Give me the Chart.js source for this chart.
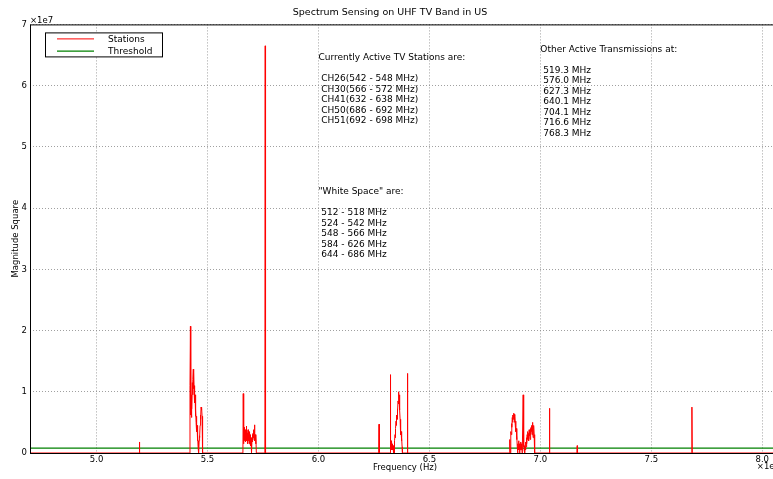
<!DOCTYPE html>
<html>
<head>
<meta charset="utf-8">
<script src="https://cdn.jsdelivr.net/npm/chart.js@4/dist/chart.umd.min.js"></script>
<style>
  html, body { margin: 0; padding: 0; background: #fff; overflow: hidden; }
  #wrap { width: 773px; height: 479px; overflow: hidden; }
</style>
</head>
<body>
<div id="wrap"><canvas id="chart" width="790" height="479"></canvas></div>
<script>
const FONT = '"DejaVu Sans", sans-serif';

// x in MHz (axis shows x1e8 Hz), y in units of 1e7
const xTicks = [500, 550, 600, 650, 700, 750, 800];
const yTicks = [0, 1, 2, 3, 4, 5, 6, 7];

// narrow single carriers
const carrierFreq = [519.3, 576.0, 627.3, 640.1, 704.1, 716.6, 768.3];
const carrierMag = [0.18, 6.65, 0.47, 1.3, 0.73, 0.12, 0.75];

// TV channel occupancy [MHz, magnitude]
const ch26 = [[541.9, 0], [542.1, 1.1], [542.3, 2.07], [542.4, 0.9], [542.5, 0.62], [542.6, 0.8], [542.7, 0.58],
  [542.85, 0.95], [543.0, 0.72], [543.15, 1.15], [543.3, 0.95], [543.45, 1.2], [543.6, 1.37], [543.7, 1.05],
  [543.8, 1.32], [543.95, 1.0], [544.1, 1.1], [544.25, 0.82], [544.4, 0.95], [544.55, 0.6], [544.7, 0.72],
  [544.85, 0.5], [545.0, 0.6], [545.15, 0.35], [545.3, 0.45], [545.45, 0.2], [545.6, 0.3], [545.75, 0.1],
  [545.9, 0.2], [546.05, 0.0], [546.2, 0.2], [546.35, 0.28], [546.5, 0.25], [546.65, 0.45], [546.8, 0.62],
  [546.95, 0.55], [547.1, 0.75], [547.25, 0.7], [547.4, 0.74], [547.55, 0.6], [547.7, 0.4], [547.85, 0.0]];

const ch30 = [[565.95, 0], [566.1, 0.97], [566.2, 0.3], [566.3, 0.15], [566.4, 0.32], [566.5, 0.2], [566.6, 0.42],
  [566.75, 0.25], [566.9, 0.38], [567.05, 0.18], [567.2, 0.35], [567.35, 0.28], [567.5, 0.44], [567.65, 0.2],
  [567.8, 0.32], [567.95, 0.15], [568.1, 0.3], [568.25, 0.38], [568.4, 0.2], [568.55, 0.33], [568.7, 0.15],
  [568.85, 0.28], [569.0, 0.35], [569.15, 0.2], [569.3, 0.3], [569.45, 0.12], [569.6, 0.25], [569.75, 0.05],
  [569.9, 0.0], [570.05, 0.22], [570.2, 0.3], [570.35, 0.18], [570.5, 0.32], [570.65, 0.25], [570.8, 0.38],
  [570.95, 0.22], [571.1, 0.35], [571.25, 0.46], [571.4, 0.2], [571.55, 0.3], [571.7, 0.15], [571.85, 0.28],
  [572.0, 0.0]];

const ch41 = [[632.25, 0], [632.4, 1.28], [632.55, 0.1], [632.7, 0.2], [632.85, 0.05], [633.0, 0.18], [633.15, 0.08],
  [633.3, 0.15], [633.45, 0.05], [633.6, 0.12], [633.75, 0.0], [633.9, 0.1], [634.05, 0.0], [634.2, 0.05],
  [634.35, 0.2], [634.5, 0.3], [634.65, 0.25], [634.8, 0.4], [634.95, 0.52], [635.1, 0.45], [635.25, 0.62],
  [635.4, 0.55], [635.55, 0.72], [635.7, 0.68], [635.85, 0.85], [636.0, 0.8], [636.15, 0.98], [636.25, 1.0],
  [636.35, 0.88], [636.5, 0.95], [636.65, 0.7], [636.8, 0.55], [636.95, 0.45], [637.1, 0.3], [637.25, 0.35],
  [637.4, 0.2], [637.55, 0.25], [637.7, 0.1], [637.85, 0.0]];

const ch50_51 = [[686.0, 0], [686.15, 0.22], [686.3, 0.15], [686.45, 0.0], [686.6, 0.2], [686.75, 0.35], [686.9, 0.3],
  [687.05, 0.48], [687.2, 0.42], [687.35, 0.58], [687.5, 0.5], [687.65, 0.62], [687.8, 0.55], [687.95, 0.65],
  [688.1, 0.58], [688.25, 0.63], [688.4, 0.5], [688.55, 0.6], [688.7, 0.45], [688.85, 0.52], [689.0, 0.35],
  [689.15, 0.4], [689.3, 0.22], [689.45, 0.28], [689.6, 0.1], [689.75, 0.0], [689.9, 0.15], [690.05, 0.08],
  [690.2, 0.2], [690.35, 0.05], [690.5, 0.15], [690.65, 0.0], [690.8, 0.12], [690.95, 0.05], [691.1, 0.18],
  [691.25, 0.08], [691.4, 0.15], [691.55, 0.05], [691.7, 0.1], [691.85, 0.0], [692.1, 0.0], [692.25, 0.95],
  [692.4, 0.1], [692.55, 0.15], [692.7, 0.05], [692.85, 0.12], [693.0, 0.0], [693.15, 0.1], [693.3, 0.05],
  [693.45, 0.18], [693.6, 0.1], [693.75, 0.25], [693.9, 0.15], [694.05, 0.3], [694.2, 0.22], [694.35, 0.35],
  [694.5, 0.25], [694.65, 0.32], [694.8, 0.2], [694.95, 0.38], [695.1, 0.28], [695.25, 0.35], [695.4, 0.22],
  [695.55, 0.4], [695.7, 0.3], [695.85, 0.42], [696.0, 0.35], [696.15, 0.45], [696.3, 0.3], [696.45, 0.5],
  [696.6, 0.35], [696.75, 0.25], [696.9, 0.42], [697.05, 0.45], [697.2, 0.3], [697.35, 0.15], [697.5, 0.0]];

const thresholdLevel = 0.08;
const xRange = [470, 808];

const activeStations = ['Currently Active TV Stations are:', '', ' CH26(542 - 548 MHz)', ' CH30(566 - 572 MHz)',
  ' CH41(632 - 638 MHz)', ' CH50(686 - 692 MHz)', ' CH51(692 - 698 MHz)'];
const otherTx = ['Other Active Transmissions at:', '', ' 519.3 MHz', ' 576.0 MHz', ' 627.3 MHz', ' 640.1 MHz',
  ' 704.1 MHz', ' 716.6 MHz', ' 768.3 MHz'];
const whiteSpace = ['"White Space" are:', '', ' 512 - 518 MHz', ' 524 - 542 MHz', ' 548 - 566 MHz',
  ' 584 - 626 MHz', ' 644 - 686 MHz'];

// build the station trace
let pts = [[xRange[0], 0], [xRange[1], 0]];
carrierFreq.forEach((f, i) => {
  pts.push([f - 0.15, 0], [f, carrierMag[i]], [f + 0.15, 0]);
});
pts = pts.concat(ch26, ch30, ch41, ch50_51);
pts.sort((a, b) => a[0] - b[0]);
const stationData = pts.map(p => ({ x: p[0], y: p[1] }));
const thresholdData = xRange.map(f => ({ x: f, y: thresholdLevel }));

function drawLines(ctx, lines, x, y, lh) {
  lines.forEach((s, i) => ctx.fillText(s, x, y + i * lh));
}

const overlay = {
  id: 'overlay',
  afterDatasetsDraw(chart) {
    const { ctx, chartArea: a, scales: { x, y } } = chart;
    ctx.save();
    // axes frame
    ctx.strokeStyle = '#000';
    ctx.lineWidth = 1;
    ctx.strokeRect(a.left + 0.5, a.top + 0.5, a.right - a.left - 1, a.bottom - a.top);

    // offset labels
    ctx.fillStyle = '#000';
    ctx.font = '8.5px ' + FONT;
    ctx.textBaseline = 'middle';
    ctx.textAlign = 'left';
    ctx.fillText('\u00d71e7', a.left, a.top - 4);
    ctx.textAlign = 'right';
    ctx.fillText('\u00d71e8', a.right, a.bottom + 14);

    // text notes
    ctx.textAlign = 'left';
    ctx.font = '9px ' + FONT;
    drawLines(ctx, activeStations, x.getPixelForValue(600), y.getPixelForValue(6.46), 10.6);
    drawLines(ctx, otherTx, x.getPixelForValue(700), y.getPixelForValue(6.595), 10.5);
    drawLines(ctx, whiteSpace, x.getPixelForValue(600), y.getPixelForValue(4.27), 10.6);

    // legend
    const lx = a.left + 15, ly = a.top + 8;
    ctx.fillStyle = '#fff';
    ctx.fillRect(lx, ly, 117, 24);
    ctx.strokeStyle = '#000';
    ctx.strokeRect(lx + 0.5, ly + 0.5, 117, 24);
    chart.data.datasets.forEach((ds, i) => {
      const yy = ly + 6.5 + i * 12.3;
      ctx.strokeStyle = ds.borderColor;
      ctx.lineWidth = ds.borderWidth;
      ctx.beginPath();
      ctx.moveTo(lx + 12, yy);
      ctx.lineTo(lx + 49, yy);
      ctx.stroke();
      ctx.fillStyle = '#000';
      ctx.fillText(ds.label, lx + 63, yy + 0.5);
    });
    ctx.restore();
  }
};

const tickFont = { family: FONT, size: 8.5 };
const labelFont = { family: FONT, size: 8.5 };

new Chart(document.getElementById('chart'), {
  type: 'line',
  data: {
    datasets: [
      { label: 'Stations', data: stationData, borderColor: '#ff0000', borderWidth: 1, pointRadius: 0, tension: 0 },
      { label: 'Threshold', data: thresholdData, borderColor: '#008000', borderWidth: 1.3, pointRadius: 0 }
    ]
  },
  options: {
    responsive: false,
    animation: false,
    devicePixelRatio: 1,
    layout: { padding: { top: 0, right: 10, left: 0, bottom: 0 } },
    plugins: {
      legend: { display: false },
      tooltip: { enabled: false },
      title: {
        display: true,
        text: 'Spectrum Sensing on UHF TV Band in US',
        color: '#000',
        font: { family: FONT, size: 9.5, weight: 'normal' },
        padding: { top: 7, bottom: 6 }
      }
    },
    scales: {
      x: {
        type: 'linear',
        min: xRange[0],
        max: xRange[1],
        afterBuildTicks: s => { s.ticks = xTicks.map(v => ({ value: v })); },
        afterFit: s => { s.height = 26; },
        ticks: { callback: v => (v / 100).toFixed(1), color: '#000', font: tickFont, padding: 2, maxRotation: 0, autoSkip: false },
        grid: { color: '#888', lineWidth: 0.8, drawTicks: false },
        border: { display: false, dash: [1, 2] },
        title: { display: true, text: 'Frequency (Hz)', color: '#000', font: labelFont, padding: { top: 0, bottom: 6 } }
      },
      y: {
        min: 0,
        max: 7,
        afterBuildTicks: s => { s.ticks = yTicks.map(v => ({ value: v })); },
        afterFit: s => { s.width = 30; },
        ticks: { callback: v => String(v), color: '#000', font: tickFont, padding: 3 },
        grid: { color: '#888', lineWidth: 0.8, drawTicks: false },
        border: { display: false, dash: [1, 2] },
        title: { display: true, text: 'Magnitude Square', color: '#000', font: labelFont, padding: { top: 11, bottom: 0 } }
      }
    }
  },
  plugins: [overlay]
});
</script>
</body>
</html>
